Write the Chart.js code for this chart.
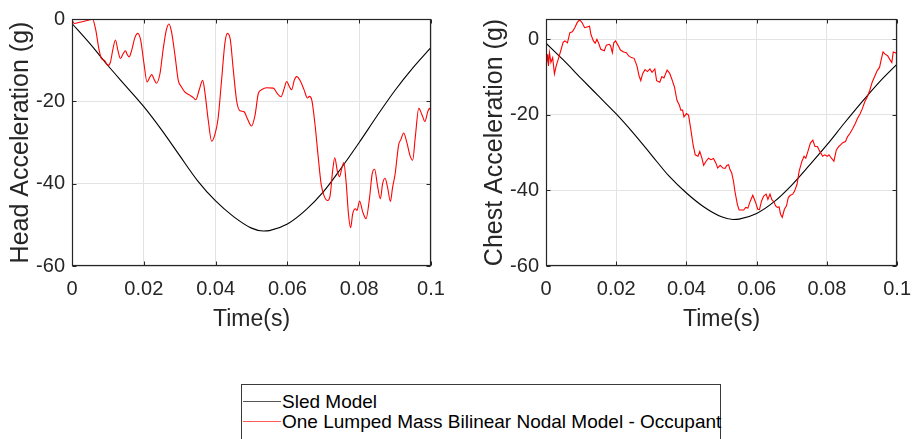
<!DOCTYPE html>
<html>
<head>
<meta charset="utf-8">
<script src="https://cdn.jsdelivr.net/npm/chart.js@4.4.1/dist/chart.umd.min.js"></script>
<style>
  html, body { margin: 0; padding: 0; background: #fff; }
  body { width: 922px; height: 439px; position: relative; overflow: hidden; font-family: "Liberation Sans", Arial, sans-serif; }
  canvas { position: absolute; top: 0; }
  #headCanvas { left: 0; }
  #chestCanvas { left: 461px; }
  #legend { position: absolute; left: 241px; top: 384px; width: 478px; height: 80px; border: 1px solid #3a3a3a; background: #fff; }
  .row { position: absolute; left: 0; height: 20px; line-height: 20px; font-size: 19px; color: #000; white-space: nowrap; }
  .row .swatch { position: absolute; left: 1px; top: 9px; width: 38px; height: 1px; }
  .row .label { position: absolute; left: 40px; top: 0; }
</style>
</head>
<body>
<canvas id="headCanvas" width="461" height="340"></canvas>
<canvas id="chestCanvas" width="461" height="340"></canvas>
<div id="legend"></div>
<script>
// Time axis ticks (s) and acceleration ticks (g)
const timeTicks = [0, 0.02, 0.04, 0.06, 0.08, 0.1];
const timeTickLabels = ['0', '0.02', '0.04', '0.06', '0.08', '0.1'];
const accelTicks = [-60, -40, -20, 0];
const accelTickLabels = ['-60', '-40', '-20', '0'];

const seriesNames = ['Sled Model', 'One Lumped Mass Bilinear Nodal Model - Occupant'];

// Sled model pulse, sampled every 5 ms
const sledTime = [0, 0.005, 0.01, 0.015, 0.02, 0.025, 0.03, 0.035, 0.04, 0.045, 0.05,
                  0.0533, 0.055, 0.06, 0.065, 0.07, 0.075, 0.08, 0.085, 0.09, 0.095, 0.1];
const headSled = [-1.1, -6.0, -11.3, -16.3, -21.3, -27.0, -33.2, -39.3, -44.2, -48.0, -50.8,
                  -51.5, -51.4, -49.8, -46.5, -42.0, -36.2, -30.0, -23.5, -17.3, -11.8, -6.9];
const chestSled = [-1.1, -5.6, -10.4, -15.1, -19.8, -25.0, -30.6, -36.2, -40.7, -44.4, -47.0,
                   -47.7, -47.6, -46.1, -43.0, -38.6, -33.4, -28.0, -22.2, -16.6, -11.3, -6.6];

// Occupant head response
const headOccTime = [0, 0.0007, 0.0021, 0.005, 0.0057, 0.0066, 0.0075, 0.0082, 0.0091, 0.0100,
  0.0107, 0.0114, 0.0121, 0.0128, 0.0135, 0.0142, 0.0149, 0.0153, 0.0159, 0.0166,
  0.0175, 0.0183, 0.0191, 0.0200, 0.0209, 0.0217, 0.0222, 0.0228, 0.0235, 0.0245,
  0.0254, 0.0263, 0.0270, 0.0277, 0.0287, 0.0296, 0.0305, 0.0314, 0.0328, 0.0338,
  0.0345, 0.0354, 0.0364, 0.0370, 0.0380, 0.0389, 0.0398, 0.0407, 0.0417, 0.0426,
  0.0433, 0.0441, 0.0449, 0.0459, 0.0468, 0.0479, 0.0488, 0.0500, 0.0510, 0.0519,
  0.0528, 0.0542, 0.0561, 0.0572, 0.0582, 0.0591, 0.0598, 0.0606, 0.0612, 0.0619,
  0.0626, 0.0635, 0.0646, 0.0656, 0.0661, 0.0668, 0.0677, 0.0686, 0.0694, 0.0702,
  0.0712, 0.0719, 0.0726, 0.0732, 0.0739, 0.0745, 0.0752, 0.0757, 0.0764, 0.0770,
  0.0776, 0.0782, 0.0789, 0.0794, 0.0801, 0.0810, 0.0819, 0.0829, 0.0836, 0.0843,
  0.0851, 0.0859, 0.0865, 0.0872, 0.0879, 0.0887, 0.0893, 0.0900, 0.0910, 0.0916,
  0.0924, 0.0933, 0.0942, 0.0949, 0.0956, 0.0966, 0.0975, 0.0983, 0.0991, 0.0996, 0.1000];
const headOcc = [-0.3, -1.1, -0.8, -0.2, 0.0, -2.6, -7.3, -9.6, -10.1, -11.3,
  -10.5, -7.3, -5.1, -7.7, -9.6, -8.5, -7.7, -8.5, -9.2, -7.7,
  -4.6, -3.5, -5.0, -10.5, -15.3, -14.1, -13.5, -14.5, -15.6, -13.3,
  -7.3, -2.6, -1.2, -3.0, -8.9, -14.9, -16.5, -17.7, -18.5, -19.1,
  -19.6, -17.3, -14.9, -17.7, -24.9, -29.7, -28.1, -24.1, -14.5, -5.8,
  -3.5, -5.0, -12.1, -20.1, -22.3, -22.5, -24.1, -26.0, -23.3, -18.1,
  -17.2, -16.7, -16.8, -18.1, -18.9, -16.9, -15.2, -16.5, -17.2, -14.9,
  -14.0, -14.9, -17.1, -19.2, -18.8, -19.7, -25.7, -33.7, -40.1, -42.9,
  -44.1, -42.9, -36.9, -33.7, -36.9, -38.3, -36.1, -34.9, -40.1, -47.3,
  -50.7, -47.3, -46.1, -46.5, -44.2, -46.9, -48.5, -43.3, -37.7, -36.5,
  -40.5, -43.7, -40.1, -38.7, -40.9, -44.3, -40.9, -37.7, -30.5, -29.3,
  -27.7, -30.1, -33.3, -34.3, -28.9, -21.7, -23.3, -24.9, -22.5, -21.7, -22.5];

// Occupant chest response
const chestOccTime = [0, 0.0001, 0.0005, 0.0007, 0.0010, 0.0014, 0.0019, 0.0024, 0.0029, 0.0035,
  0.0042, 0.0049, 0.0054, 0.0061, 0.0068, 0.0075, 0.0082, 0.0089, 0.0096, 0.0103,
  0.0110, 0.0117, 0.0124, 0.0128, 0.0135, 0.0140, 0.0145, 0.0150, 0.0156, 0.0166,
  0.0172, 0.0180, 0.0184, 0.0189, 0.0193, 0.0198, 0.0206, 0.0212, 0.0221, 0.0229,
  0.0235, 0.0243, 0.0251, 0.0259, 0.0265, 0.0270, 0.0275, 0.0282, 0.0289, 0.0296,
  0.0302, 0.0310, 0.0315, 0.0324, 0.0330, 0.0336, 0.0345, 0.0352, 0.0358, 0.0366,
  0.0373, 0.0380, 0.0384, 0.0389, 0.0393, 0.0400, 0.0406, 0.0412, 0.0419, 0.0425,
  0.0433, 0.0438, 0.0444, 0.0449, 0.0456, 0.0463, 0.0470, 0.0477, 0.0484, 0.0489,
  0.0496, 0.0504, 0.0510, 0.0515, 0.0520, 0.0524, 0.0529, 0.0534, 0.0538, 0.0545,
  0.0550, 0.0557, 0.0563, 0.0569, 0.0575, 0.0582, 0.0589, 0.0597, 0.0603, 0.0608,
  0.0614, 0.0620, 0.0627, 0.0632, 0.0638, 0.0643, 0.0650, 0.0654, 0.0659, 0.0664,
  0.0668, 0.0673, 0.0679, 0.0685, 0.0690, 0.0696, 0.0703, 0.0708, 0.0715, 0.0721,
  0.0729, 0.0735, 0.0740, 0.0746, 0.0753, 0.0760, 0.0766, 0.0773, 0.0780, 0.0788,
  0.0794, 0.0801, 0.0806, 0.0813, 0.0820, 0.0827, 0.0834, 0.0839, 0.0845, 0.0853,
  0.0859, 0.0866, 0.0874, 0.0881, 0.0887, 0.0895, 0.0901, 0.0908, 0.0915, 0.0922,
  0.0929, 0.0937, 0.0943, 0.0950, 0.0955, 0.0960, 0.0966, 0.0973, 0.0980, 0.0985,
  0.0989, 0.0995, 0.1000];
const chestOcc = [0.6, -7.0, -4.0, -7.1, -3.6, -6.2, -4.9, -9.2, -7.1, -5.3,
  -3.1, -0.8, -0.5, -1.0, 1.7, 1.9, 3.0, 4.4, 5.1, 4.3,
  3.0, 3.2, 3.4, 1.2, -0.5, -1.1, -0.1, -1.1, -2.7, -3.1,
  -1.6, -1.4, -1.8, -3.6, -1.0, -0.5, -1.8, -2.9, -3.4, -3.6,
  -4.4, -4.9, -5.1, -7.1, -9.7, -11.0, -9.2, -8.1, -8.6, -7.9,
  -8.8, -7.9, -11.0, -11.4, -9.9, -10.3, -8.2, -9.0, -10.5, -12.7,
  -16.2, -17.5, -18.8, -18.8, -20.6, -19.7, -20.1, -23.6, -28.0, -30.6,
  -31.0, -29.7, -31.5, -33.4, -32.3, -31.5, -31.9, -31.6, -32.8, -34.1,
  -33.4, -34.1, -34.2, -33.4, -33.2, -34.5, -35.4, -37.6, -40.2, -43.7,
  -45.2, -45.2, -45.2, -44.5, -44.7, -42.8, -41.3, -43.2, -45.0, -45.1,
  -42.8, -41.5, -41.0, -42.4, -41.0, -42.4, -43.2, -44.1, -44.5, -44.4,
  -46.3, -47.1, -45.0, -44.1, -41.9, -41.3, -41.0, -40.2, -38.4, -34.9,
  -32.3, -31.0, -31.5, -29.7, -27.5, -26.7, -28.4, -28.4, -29.7, -31.0,
  -30.6, -31.0, -30.6, -31.5, -32.3, -29.3, -28.4, -28.0, -27.4, -27.1,
  -25.8, -24.9, -23.6, -22.3, -21.0, -19.7, -18.4, -16.6, -15.3, -13.6,
  -11.4, -9.7, -8.4, -7.5, -5.3, -3.4, -4.0, -4.4, -5.5, -6.2,
  -3.4, -3.6, -4.0];

const FONT = '"Liberation Sans", Arial, Helvetica, sans-serif';
const INK = '#262626';
const SLED_COLOR = '#000000';
const OCC_COLOR = '#ff0000';

const toPoints = (xs, ys) => xs.map((x, i) => ({ x: x, y: ys[i] }));

// Axes box with short inward tick marks on all four sides
const axesBox = {
  id: 'axesBox',
  afterDraw(chart) {
    const { ctx, chartArea: a, scales } = chart;
    const xs = scales.x, ys = scales.y;
    const L = Math.round(a.left) + 0.5, R = Math.round(a.right) - 0.5;
    const T = Math.round(a.top) + 0.5, B = Math.round(a.bottom) - 0.5;
    const len = 4;
    ctx.save();
    ctx.strokeStyle = INK;
    ctx.lineWidth = 1;
    ctx.beginPath();
    xs.ticks.forEach(t => {
      const px = Math.round(xs.getPixelForValue(t.value)) + 0.5;
      ctx.moveTo(px, B); ctx.lineTo(px, B - len);
      ctx.moveTo(px, T); ctx.lineTo(px, T + len);
    });
    ys.ticks.forEach(t => {
      const py = Math.round(ys.getPixelForValue(t.value)) + 0.5;
      ctx.moveTo(L, py); ctx.lineTo(L + len, py);
      ctx.moveTo(R, py); ctx.lineTo(R - len, py);
    });
    ctx.stroke();
    ctx.lineWidth = 1.2;
    ctx.strokeRect(L, T, R - L, B - T);
    ctx.restore();
  }
};

function makeChart(canvasId, cfg) {
  return new Chart(document.getElementById(canvasId), {
    type: 'line',
    data: {
      datasets: [
        {
          label: seriesNames[0],
          data: toPoints(sledTime, cfg.sled),
          borderColor: SLED_COLOR,
          borderWidth: 1.1,
          pointRadius: 0,
          cubicInterpolationMode: 'monotone',
          order: 2
        },
        {
          label: seriesNames[1],
          data: toPoints(cfg.occTime, cfg.occ),
          borderColor: OCC_COLOR,
          borderWidth: 1.1,
          pointRadius: 0,
          cubicInterpolationMode: cfg.smooth ? 'monotone' : 'default',
          tension: 0,
          order: 1
        }
      ]
    },
    options: {
      responsive: false,
      animation: false,
      devicePixelRatio: 1,
      layout: { padding: { top: 16, right: cfg.padRight, left: 0, bottom: 0 } },
      plugins: { legend: { display: false }, tooltip: { enabled: false } },
      scales: {
        x: {
          type: 'linear',
          min: 0,
          max: 0.1,
          afterBuildTicks: s => { s.ticks = timeTicks.map(v => ({ value: v })); },
          afterFit: s => { s.height = 74; },
          ticks: {
            padding: 11,
            color: INK,
            maxRotation: 0,
            autoSkip: false,
            font: { family: FONT, size: 20 },
            callback: (v) => timeTickLabels[timeTicks.indexOf(v)]
          },
          grid: { color: '#e3e3e3', lineWidth: 1, drawTicks: false },
          border: { display: false },
          title: {
            display: true,
            text: 'Time(s)',
            color: INK,
            font: { family: FONT, size: 23 },
            padding: { top: 0, bottom: 6.5 }
          }
        },
        y: {
          type: 'linear',
          min: -60,
          max: cfg.yMax,
          afterBuildTicks: s => { s.ticks = accelTicks.map(v => ({ value: v })); },
          afterFit: s => { s.width = cfg.yAxisWidth; },
          ticks: {
            padding: 7,
            color: INK,
            autoSkip: false,
            font: { family: FONT, size: 20 },
            callback: (v) => accelTickLabels[accelTicks.indexOf(v)]
          },
          grid: { color: '#e3e3e3', lineWidth: 1, drawTicks: false },
          border: { display: false },
          title: {
            display: true,
            text: cfg.yTitle,
            color: INK,
            font: { family: FONT, size: 25 },
            padding: { top: cfg.yTitlePad, bottom: 0 }
          }
        }
      }
    },
    plugins: [axesBox]
  });
}

makeChart('headCanvas', {
  sled: headSled, occTime: headOccTime, occ: headOcc, smooth: true,
  yMax: 0, yTitle: 'Head Acceleration (g)', yAxisWidth: 72, yTitlePad: 6.5, padRight: 30
});
makeChart('chestCanvas', {
  sled: chestSled, occTime: chestOccTime, occ: chestOcc, smooth: false,
  yMax: 5.3, yTitle: 'Chest Acceleration (g)', yAxisWidth: 85, yTitlePad: 19, padRight: 18
});

// Shared legend below both panels
const legend = document.getElementById('legend');
[SLED_COLOR, OCC_COLOR].forEach((color, i) => {
  const row = document.createElement('div');
  row.className = 'row';
  row.style.top = (7 + i * 20) + 'px';
  const sw = document.createElement('span');
  sw.className = 'swatch';
  sw.style.background = i === 0 ? '#555' : '#ff5a5a';
  const lab = document.createElement('span');
  lab.className = 'label';
  lab.textContent = seriesNames[i];
  row.appendChild(sw);
  row.appendChild(lab);
  legend.appendChild(row);
});
</script>
</body>
</html>
